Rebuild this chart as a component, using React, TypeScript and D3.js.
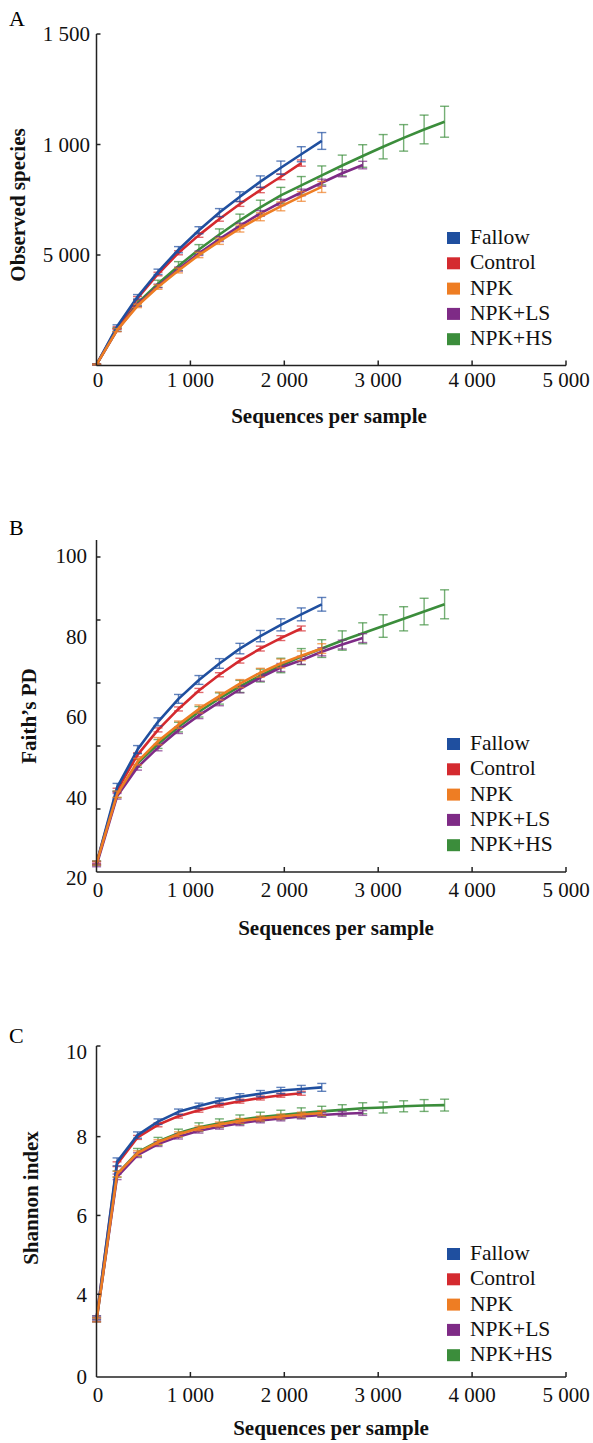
import React from 'react';
import * as d3 from 'd3';

// ---------- data ----------
const depths = [1, 219, 437, 655, 873, 1091, 1309, 1527, 1745, 1963, 2181, 2399, 2617, 2835, 3053, 3271, 3489, 3707];
const groups = ['Fallow', 'Control', 'NPK', 'NPK+LS', 'NPK+HS'];
const colors = ['#1f4f9f', '#d42a2f', '#ee7d23', '#7e2b86', '#3b8d3b'];
const drawOrder = [4, 3, 1, 0, 2];

// Panel A: observed species
const obsFallow = [5, 176, 311, 424, 524, 612, 692, 764, 832, 895, 956, 1016];
const obsControl = [5, 170, 305, 414, 510, 590, 663, 731, 794, 854, 916];
const obsNPK = [5, 160, 270, 355, 430, 500, 562, 620, 673, 720, 765, 808];
const obsLS = [5, 160, 275, 360, 436, 508, 572, 632, 688, 738, 783, 827, 870, 907];
const obsHS = [5, 163, 282, 370, 450, 525, 593, 657, 716, 770, 815, 860, 905, 948, 990, 1030, 1068, 1103];
const obsFallowErr = [2, 8, 10, 12, 14, 16, 18, 22, 26, 30, 34, 38];
const obsControlErr = [2, 6, 7, 8, 9, 10, 10, 11, 12, 13, 14];
const obsNPKErr = [2, 7, 8, 10, 11, 12, 14, 16, 18, 20, 22, 25];
const obsLSErr = [2, 6, 7, 8, 9, 10, 11, 12, 13, 14, 15, 16, 16, 17];
const obsHSErr = [2, 8, 12, 16, 20, 22, 25, 28, 32, 36, 40, 43, 47, 51, 55, 60, 65, 70];

// Panel B: Faith's PD
const pdFallow = [23.7, 42.5, 51.9, 58.8, 64.5, 69.2, 73.3, 77.0, 80.1, 82.9, 85.5, 88.0];
const pdControl = [23.7, 41.8, 50.6, 56.8, 62.0, 66.6, 70.5, 74.0, 77.0, 79.6, 82.0];
const pdNPK = [23.7, 40.8, 48.9, 54.0, 58.1, 62.0, 65.2, 68.3, 71.0, 73.3, 75.2, 77.0];
const pdLS = [23.2, 40.3, 47.5, 52.4, 56.7, 60.4, 63.7, 66.9, 69.8, 72.3, 74.1, 76.2, 78.0, 79.6];
const pdHS = [23.7, 40.8, 48.5, 53.3, 57.5, 61.3, 64.6, 67.6, 70.3, 72.8, 75.0, 77.0, 79.0, 80.8, 82.6, 84.4, 86.2, 88.0];
const pdFallowErr = [0.5, 1.0, 1.0, 1.0, 1.1, 1.1, 1.2, 1.3, 1.4, 1.5, 1.6, 1.7];
const pdControlErr = [0.3, 0.5, 0.5, 0.5, 0.5, 0.5, 0.5, 0.6, 0.6, 0.6, 0.6];
const pdNPKErr = [0.5, 0.8, 0.8, 0.9, 0.9, 1.0, 1.0, 1.0, 1.1, 1.1, 1.2, 1.2];
const pdLSErr = [0.4, 0.7, 0.7, 0.8, 0.8, 0.8, 0.9, 0.9, 0.9, 1.0, 1.0, 1.0, 1.1, 1.1];
const pdHSErr = [0.5, 0.8, 1.0, 1.1, 1.2, 1.3, 1.4, 1.5, 1.6, 1.8, 2.0, 2.2, 2.4, 2.6, 2.8, 3.0, 3.3, 3.6];

// Panel C: Shannon index
const shFallow = [3.4, 7.36, 8.04, 8.38, 8.63, 8.78, 8.91, 9.01, 9.09, 9.17, 9.21, 9.25];
const shControl = [3.4, 7.3, 7.98, 8.30, 8.52, 8.67, 8.80, 8.90, 8.98, 9.05, 9.10];
const shNPK = [3.35, 7.05, 7.58, 7.86, 8.06, 8.21, 8.31, 8.40, 8.46, 8.51, 8.56, 8.60];
const shLS = [3.35, 6.98, 7.53, 7.81, 8.0, 8.15, 8.25, 8.34, 8.41, 8.46, 8.51, 8.55, 8.58, 8.60];
const shHS = [3.35, 7.05, 7.60, 7.88, 8.09, 8.24, 8.34, 8.43, 8.50, 8.55, 8.60, 8.64, 8.68, 8.72, 8.74, 8.77, 8.79, 8.80];
const shFallowErr = [0.05, 0.1, 0.08, 0.07, 0.07, 0.07, 0.07, 0.08, 0.08, 0.08, 0.09, 0.1];
const shControlErr = [0.05, 0.06, 0.05, 0.05, 0.05, 0.05, 0.05, 0.05, 0.05, 0.05, 0.05];
const shNPKErr = [0.05, 0.07, 0.06, 0.06, 0.06, 0.06, 0.06, 0.06, 0.06, 0.06, 0.06, 0.06];
const shLSErr = [0.05, 0.07, 0.06, 0.06, 0.06, 0.06, 0.06, 0.06, 0.06, 0.06, 0.06, 0.06, 0.06, 0.06];
const shHSErr = [0.05, 0.08, 0.1, 0.1, 0.1, 0.11, 0.11, 0.12, 0.12, 0.12, 0.13, 0.13, 0.13, 0.14, 0.14, 0.14, 0.15, 0.15];

const xTicks = [1000, 2000, 3000, 4000, 5000];
const xTickLabels = ['0', '1 000', '2 000', '3 000', '4 000', '5 000'];
const xLabelVals = [0, 1000, 2000, 3000, 4000, 5000];

const aTickVals = [500, 1000, 1500];
const aTickLabels = ['5 000', '1 000', '1 500'];
const bTickVals = [20, 40, 60, 80, 100];
const bLabelVals = [100, 80, 60, 40, 20];
const bLabels = ['100', '80', '60', '40', '20'];
const cTickVals = [4, 6, 8, 10.3];
const cLabels = ['10', '8', '6', '4', '0'];
const cLabelVals = [10.15, 8, 6, 4, 1.9];

const FONT = '"Liberation Serif", "Times New Roman", serif';
const x = d3.scaleLinear().domain([0, 5000]).range([96.5, 566]);

type Series = { values: number[]; errs: number[] };

function Panel(props: {
  letter: string; letterY: number;
  series: Series[];
  yData: d3.ScaleLinear<number, number>;
  yTick: d3.ScaleLinear<number, number>;
  tickVals: number[];
  axisTop: number; axisBottom: number;
  labels: string[]; labelVals: number[];
  labelX: number;
  xLabelDy: number; xTitleX: number; xTitleDy: number;
  yTitle: string; yTitleX: number; yTitleY: number;
  legendTop: number;
}) {
  const p = props;
  const axisY = p.yTick(p.axisBottom);
  const yTopPx = p.yTick(p.axisTop);
  const line = (vals: number[]) =>
    d3.line<number>().x((_, i) => x(depths[i])).y((v) => p.yData(v))(vals) || '';
  return (
    <g>
      <text x={9} y={p.letterY} fontSize={22} fontFamily={FONT}>{p.letter}</text>
      {drawOrder.map((gi) => {
        const s = p.series[gi];
        return (
          <g key={gi}>
            {s.values.map((v, i) => {
              const cx = x(depths[i]);
              const y1 = p.yData(v - s.errs[i]);
              const y2 = p.yData(v + s.errs[i]);
              return (
                <g key={i} stroke={colors[gi]} strokeOpacity={0.7} strokeWidth={1.4}>
                  <line x1={cx} x2={cx} y1={y1} y2={y2} />
                  <line x1={cx - 4.5} x2={cx + 4.5} y1={y1} y2={y1} />
                  <line x1={cx - 4.5} x2={cx + 4.5} y1={y2} y2={y2} />
                </g>
              );
            })}
            <path d={line(s.values)} fill="none" stroke={colors[gi]} strokeWidth={2.6} strokeLinejoin="round" />
          </g>
        );
      })}
      <g stroke="#222" strokeWidth={1.5} fill="none">
        <line x1={x(0)} x2={x(0)} y1={yTopPx} y2={axisY} />
        <line x1={x(0)} x2={x(5000)} y1={axisY} y2={axisY} />
        {xTicks.map((t) => (
          <line key={t} x1={x(t)} x2={x(t)} y1={axisY} y2={axisY - 5} />
        ))}
        {p.tickVals.map((t) => (
          <line key={t} x1={x(0)} x2={x(0) + 4} y1={p.yTick(t)} y2={p.yTick(t)} />
        ))}
      </g>
      {xLabelVals.map((v, i) => (
        <text key={v} x={x(v) + (i === 0 ? 1.5 : 0)} y={axisY + p.xLabelDy} fontSize={21} fontFamily={FONT} textAnchor="middle" fill="#111">
          {xTickLabels[i]}
        </text>
      ))}
      {p.labels.map((l, i) => (
        <text key={l + i} x={p.labelX} y={p.yData(p.labelVals[i])} dy="0.35em" fontSize={21} fontFamily={FONT} textAnchor="end" fill="#111">
          {l}
        </text>
      ))}
      <text x={p.xTitleX} y={axisY + p.xTitleDy} fontSize={21} fontWeight="bold" fontFamily={FONT} textAnchor="middle" fill="#111">
        Sequences per sample
      </text>
      <text transform={`translate(${p.yTitleX},${p.yTitleY}) rotate(-90)`} fontSize={21} fontWeight="bold" fontFamily={FONT} textAnchor="middle" fill="#111">
        {p.yTitle}
      </text>
      {groups.map((g, i) => (
        <g key={g}>
          <rect x={447} y={p.legendTop + i * 25.3} width={13} height={12} fill={colors[i]} />
          <text x={470} y={p.legendTop + i * 25.3 + 12} fontSize={21.5} fontFamily={FONT} fill="#111">{g}</text>
        </g>
      ))}
    </g>
  );
}

export default function App() {
  const yA = d3.scaleLinear().domain([0, 1500]).range([365.5, 34]);
  const yBtick = d3.scaleLinear().domain([0, 100]).range([872, 557]);
  const yB = d3.scaleLinear().domain([20, 100]).range([878, 556]);
  const yC = d3.scaleLinear().domain([1.9, 10.3]).range([1377, 1046]);

  const seriesA: Series[] = [
    { values: obsFallow, errs: obsFallowErr },
    { values: obsControl, errs: obsControlErr },
    { values: obsNPK, errs: obsNPKErr },
    { values: obsLS, errs: obsLSErr },
    { values: obsHS, errs: obsHSErr },
  ];
  const seriesB: Series[] = [
    { values: pdFallow, errs: pdFallowErr },
    { values: pdControl, errs: pdControlErr },
    { values: pdNPK, errs: pdNPKErr },
    { values: pdLS, errs: pdLSErr },
    { values: pdHS, errs: pdHSErr },
  ];
  const seriesC: Series[] = [
    { values: shFallow, errs: shFallowErr },
    { values: shControl, errs: shControlErr },
    { values: shNPK, errs: shNPKErr },
    { values: shLS, errs: shLSErr },
    { values: shHS, errs: shHSErr },
  ];

  return (
    <svg width={593} height={1443} style={{ position: 'absolute', left: 0, top: 0, background: '#fff' }}>
      <rect width={593} height={1443} fill="#fff" />
      <Panel letter="A" letterY={26} series={seriesA} yData={yA} yTick={yA} tickVals={aTickVals}
        axisTop={1500} axisBottom={0} labels={aTickLabels} labelVals={aTickVals} labelX={90}
        xLabelDy={21} xTitleX={329} xTitleDy={57}
        yTitle="Observed species" yTitleX={25} yTitleY={205} legendTop={232} />
      <Panel letter="B" letterY={535} series={seriesB} yData={yB} yTick={yBtick} tickVals={bTickVals}
        axisTop={105.4} axisBottom={0} labels={bLabels} labelVals={bLabelVals} labelX={87}
        xLabelDy={25} xTitleX={336} xTitleDy={63}
        yTitle="Faith’s PD" yTitleX={36} yTitleY={716} legendTop={738} />
      <Panel letter="C" letterY={1043} series={seriesC} yData={yC} yTick={yC} tickVals={cTickVals}
        axisTop={10.3} axisBottom={1.9} labels={cLabels} labelVals={cLabelVals} labelX={87}
        xLabelDy={25} xTitleX={331} xTitleDy={58}
        yTitle="Shannon index" yTitleX={38} yTitleY={1198} legendTop={1248} />
    </svg>
  );
}
